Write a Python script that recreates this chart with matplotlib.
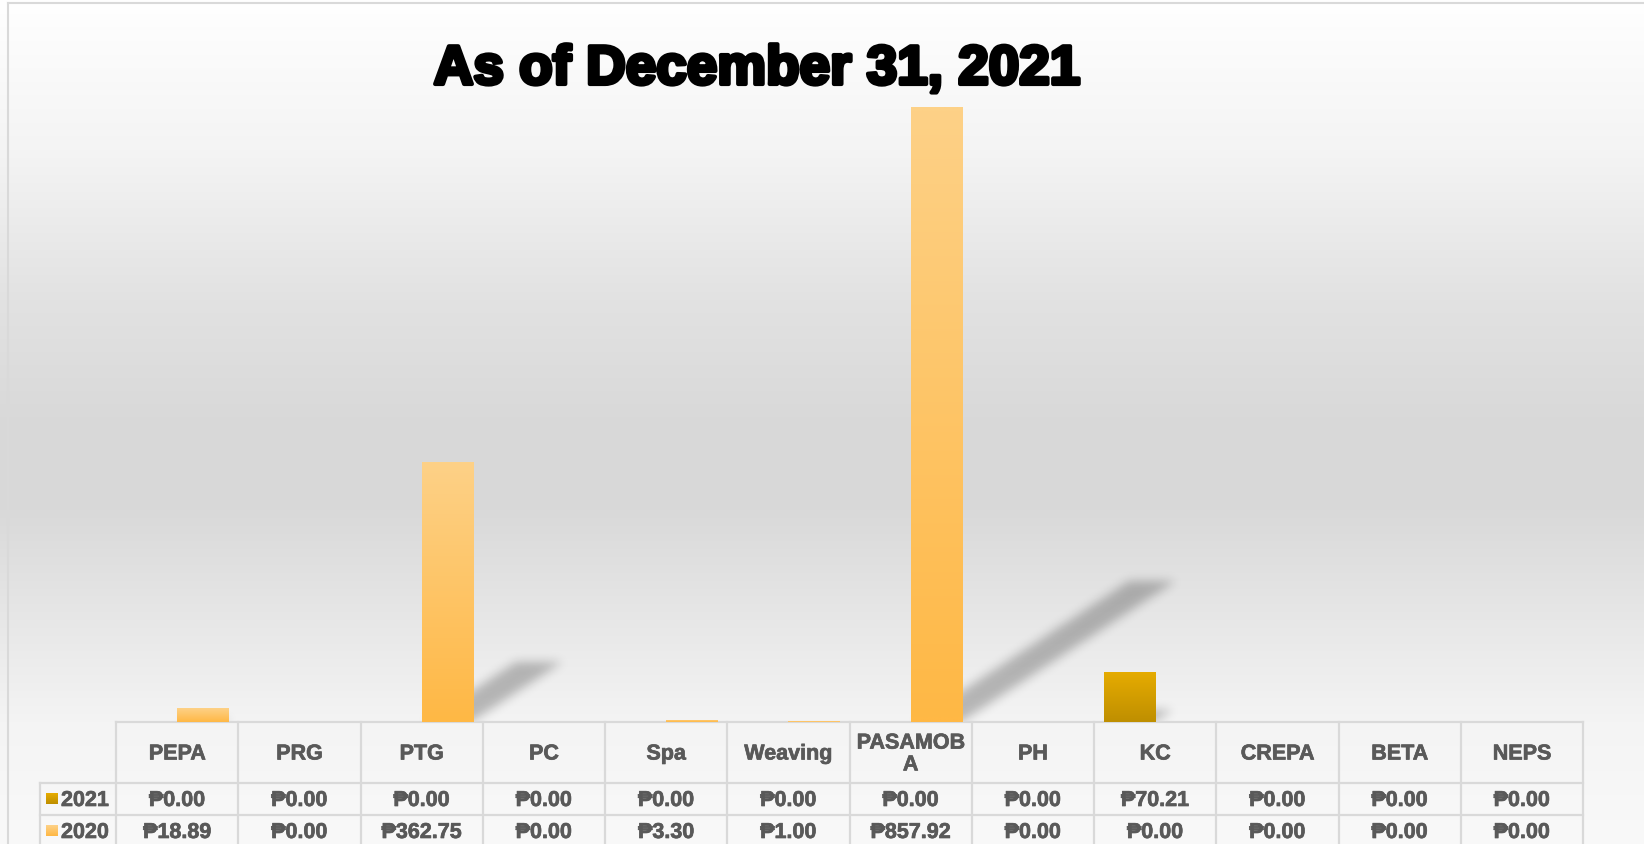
import numpy as np
import matplotlib
matplotlib.use('Agg')
import matplotlib.pyplot as plt
from matplotlib import patheffects as pe

plt.rcParams['font.family'] = ['Liberation Sans', 'DejaVu Sans']

# ---------------- data ----------------
categories = ['PEPA', 'PRG', 'PTG', 'PC', 'Spa', 'Weaving', 'PASAMOBA',
              'PH', 'KC', 'CREPA', 'BETA', 'NEPS']
header_labels = ['PEPA', 'PRG', 'PTG', 'PC', 'Spa', 'Weaving', 'PASAMOB\nA',
                 'PH', 'KC', 'CREPA', 'BETA', 'NEPS']
series_names = ['2021', '2020']
values_2021 = [0, 0, 0, 0, 0, 0, 0, 0, 70.21, 0, 0, 0]
values_2020 = [18.89, 0, 362.75, 0, 3.30, 1.00, 857.92, 0, 0, 0, 0, 0]
title = 'As of December 31, 2021'

# ---------------- styles ----------------
W, H, DPI = 1644, 844, 100
c21_top, c21_bot = np.array([0xe6, 0xac, 0x00]) / 255, np.array([0xbf, 0x8f, 0x00]) / 255
c20_top, c20_bot = np.array([0xfd, 0xd1, 0x87]) / 255, np.array([0xff, 0xb8, 0x45]) / 255
grid_col = '#d9d9d9'
txt_col = '#595959'

fig = plt.figure(figsize=(W / DPI, H / DPI), dpi=DPI)

# background axes in pixel coordinates (origin top-left)
bg = fig.add_axes([0, 0, 1, 1], zorder=0)
bg.set_xlim(0, W)
bg.set_ylim(H, 0)
bg.axis('off')
ys = np.arange(H) + 0.5
stops_y = [0, 150, 300, 430, 510, 620, 722, 844]
stops_v = [255, 244, 226, 216, 217, 231, 244, 249]
g = np.interp(ys, stops_y, stops_v) / 255.0
grad = np.repeat(g[:, None], 8, axis=1)
bg.imshow(np.dstack([grad, grad, grad]), extent=(0, W, H, 0), aspect='auto',
          interpolation='bilinear', zorder=0)
# chart frame
bg.plot([8, 8], [3, H], color=grid_col, lw=1.5, zorder=1)
bg.plot([8, W], [3, 3], color=grid_col, lw=1.5, zorder=1)

# main plot axes
x_left, x_right, y_top, y_base = 116, 1583, 5, 722
ax = fig.add_axes([x_left / W, (H - y_base) / H, (x_right - x_left) / W, (y_base - y_top) / H],
                  zorder=2)
ax.patch.set_alpha(0)
n = len(categories)
x = np.arange(n) + 0.5
bw = 0.42
bars21 = ax.bar(x - bw, values_2021, bw, align='edge', color='none', edgecolor='none')
bars20 = ax.bar(x, values_2020, bw, align='edge', color='none', edgecolor='none')


def grad_img(top, bot, n=64):
    t = np.linspace(0, 1, n)[:, None]
    return (top[None, :] * (1 - t) + bot[None, :] * t)[:, None, :]


for bars, (ct, cb) in ((bars21, (c21_top, c21_bot)), (bars20, (c20_top, c20_bot))):
    for b in bars:
        h = b.get_height()
        if h <= 0:
            continue
        x0 = b.get_x()
        im = ax.imshow(grad_img(ct, cb), extent=(x0, x0 + b.get_width(), 0, h),
                       aspect='auto', interpolation='bilinear', zorder=2)
        im.set_clip_path(b)
ax.set_xlim(0, n)
ax.set_ylim(0, 1000)
ax.axis('off')

# ---------------- perspective shadows (computed from bars) ----------------
XX, YY = np.meshgrid(np.arange(W) + 0.5, np.arange(H) + 0.5)
mask = np.zeros((H, W))
for bars in (bars21, bars20):
    for b in bars:
        h = b.get_height()
        if h <= 0:
            continue
        (dx0, dy0) = ax.transData.transform((b.get_x(), 0))
        (dx1, dy1) = ax.transData.transform((b.get_x() + b.get_width(), h))
        xl, xr = dx0, dx1
        yb = H - dy0
        hp = dy1 - dy0
        sdx, sdy = 0.35 * hp, 0.23 * hp
        if sdy < 1:
            continue
        v = (yb - YY) / sdy
        xs = XX - v * sdx
        inside = (v >= 0) & (v <= 1) & (xs >= xl + 3) & (xs <= xr - 2)
        mask = np.maximum(mask, inside.astype(float))


def blur(a, s):
    r = int(3 * s)
    k = np.exp(-0.5 * (np.arange(-r, r + 1) / s) ** 2)
    k /= k.sum()
    p = np.pad(a, ((0, 0), (r, r)))
    out = sum(k[i] * p[:, i:i + a.shape[1]] for i in range(2 * r + 1))
    p = np.pad(out, ((r, r), (0, 0)))
    out = sum(k[i] * p[i:i + a.shape[0], :] for i in range(2 * r + 1))
    return out


sh = blur(mask, 5)
sh[y_base:, :] = 0
rgba = np.zeros((H, W, 4))
rgba[..., 3] = 0.25 * sh
bg.imshow(rgba, extent=(0, W, H, 0), aspect='auto', interpolation='nearest', zorder=1)

# ---------------- data table ----------------
col_edges = [ax.transData.transform((i, 0))[0] for i in range(n + 1)]
row_header = (722, 783)
row21 = (783, 815)
row20 = (815, 847)
leg_left = 40
lw = 1.6
for xe in col_edges:
    bg.plot([xe, xe], [row_header[0], H + 5], color=grid_col, lw=lw, zorder=3)
bg.plot([leg_left, leg_left], [row21[0], H + 5], color=grid_col, lw=lw, zorder=3)
bg.plot([col_edges[0], col_edges[-1]], [row_header[0]] * 2, color=grid_col, lw=lw, zorder=3)
for yy in (row21[0], row20[0]):
    bg.plot([leg_left, col_edges[-1]], [yy, yy], color=grid_col, lw=lw, zorder=3)

fs = 15.5
heavy = [pe.withStroke(linewidth=0.5, foreground=txt_col)]
hy = (row_header[0] + row_header[1]) / 2 + 1.5
for i, lab in enumerate(header_labels):
    cx = (col_edges[i] + col_edges[i + 1]) / 2
    bg.text(cx, hy, lab, ha='center', va='center', fontsize=fs, fontweight='bold',
            color=txt_col, linespacing=1.05, zorder=4, path_effects=heavy)

for (row, vals) in ((row21, values_2021), (row20, values_2020)):
    cy = (row[0] + row[1]) / 2 + 1.5
    for i, v in enumerate(vals):
        cx = (col_edges[i] + col_edges[i + 1]) / 2
        bg.text(cx, cy, '\u20b1{:.2f}'.format(v), ha='center', va='center', fontsize=fs,
                fontweight='bold', color=txt_col, zorder=4, path_effects=heavy)

# legend keys inside the table
for name, row, (ct, cb) in ((series_names[0], row21, (c21_top, c21_bot)),
                            (series_names[1], row20, (c20_top, c20_bot))):
    cy = (row[0] + row[1]) / 2
    bg.imshow(grad_img(ct, cb, 16), extent=(46, 57, cy + 5.5, cy - 5.5), aspect='auto',
              interpolation='bilinear', zorder=4)
    bg.text(61, cy + 1.5, name, ha='left', va='center', fontsize=fs, fontweight='bold',
            color=txt_col, zorder=4, path_effects=heavy)
bg.set_xlim(0, W)
bg.set_ylim(H, 0)

# ---------------- title ----------------
bg.text(757, 70, title, ha='center', va='center', fontsize=39.5, fontweight='bold',
        color='black', zorder=5,
        path_effects=[pe.withStroke(linewidth=3, foreground='black')])

fig.savefig('out.png', dpi=DPI)
